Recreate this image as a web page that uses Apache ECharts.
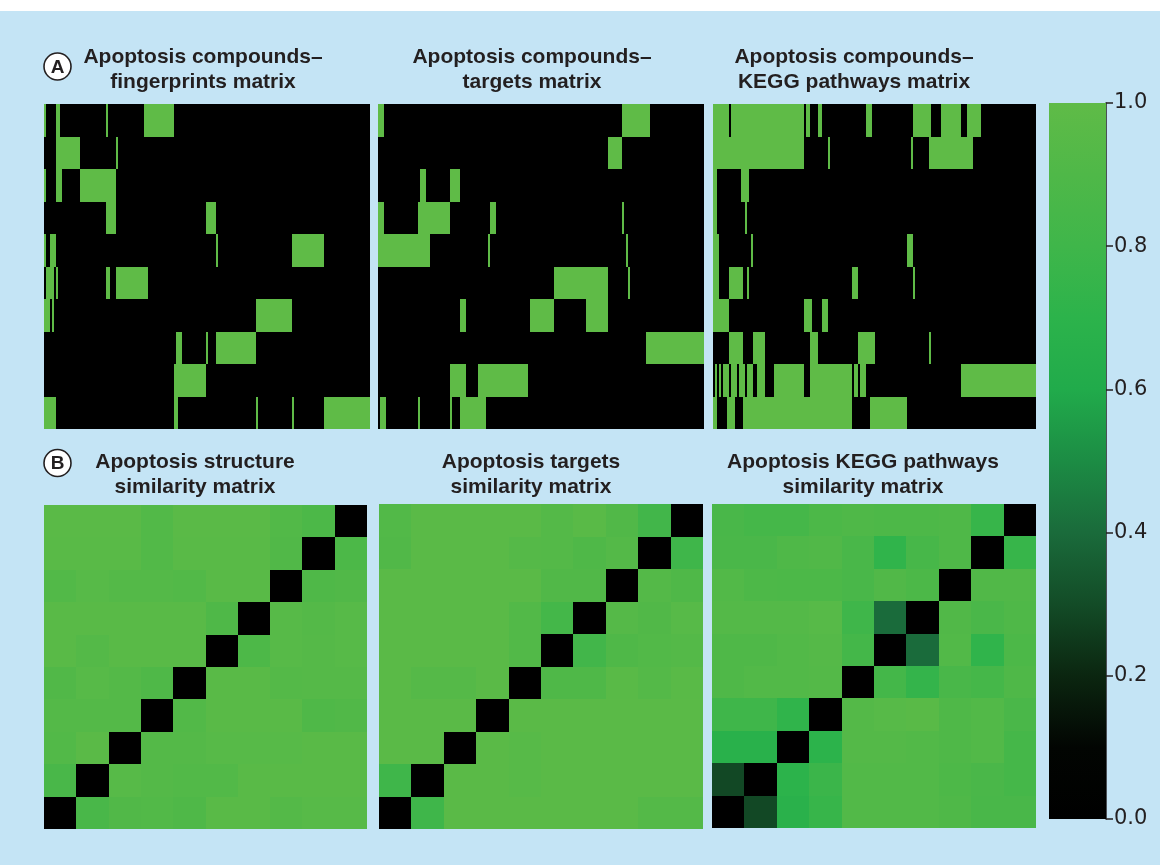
<!DOCTYPE html>
<html>
<head>
<meta charset="utf-8">
<title>Apoptosis compound matrices</title>
<script src="https://cdn.jsdelivr.net/npm/echarts@6/dist/echarts.min.js"></script>
<style>
  html, body { margin: 0; padding: 0; background: #c4e4f5; }
  #chart { width: 1160px; height: 865px; }
</style>
</head>
<body>
<div id="chart"></div>
<script>
// ---- data -------------------------------------------------------------
const featureCount = 163;   // feature columns in each binary matrix
const compoundCount = 10;   // compounds (rows) in every matrix

// Binary compound–feature matrices, one entry per compound (top to bottom);
// each entry lists [start, end) runs of feature columns that are present (=1).
const fingerprintRuns = [
  [[0, 1], [6, 8], [31, 32], [50, 65]],
  [[6, 18], [36, 37]],
  [[0, 1], [6, 9], [18, 36]],
  [[31, 36], [81, 86]],
  [[0, 1], [3, 6], [86, 87], [124, 140]],
  [[1, 5], [6, 7], [31, 33], [36, 52]],
  [[0, 3], [4, 5], [106, 124]],
  [[66, 69], [81, 82], [86, 106]],
  [[65, 81]],
  [[0, 6], [65, 67], [106, 107], [124, 125], [140, 163]]
];
const targetRuns = [
  [[0, 3], [122, 136]],
  [[115, 122]],
  [[21, 24], [36, 41]],
  [[0, 3], [20, 36], [56, 59], [122, 123]],
  [[0, 26], [55, 56], [124, 125]],
  [[88, 115], [125, 126]],
  [[41, 44], [76, 88], [104, 115]],
  [[134, 163]],
  [[36, 44], [50, 75]],
  [[1, 4], [20, 21], [36, 37], [41, 54]]
];
const keggRuns = [
  [[0, 8], [9, 46], [47, 49], [53, 55], [77, 80], [101, 110], [115, 125], [128, 135]],
  [[0, 46], [58, 59], [100, 101], [109, 131]],
  [[0, 2], [14, 18]],
  [[0, 2], [16, 17]],
  [[0, 3], [19, 20], [98, 101]],
  [[0, 3], [8, 15], [17, 18], [70, 73], [101, 102]],
  [[0, 8], [46, 50], [55, 58]],
  [[8, 15], [20, 26], [49, 53], [73, 82], [109, 110]],
  [[1, 2], [3, 4], [5, 8], [9, 12], [13, 16], [17, 20], [22, 26], [31, 46], [49, 70], [71, 73], [74, 77], [125, 163]],
  [[0, 2], [7, 11], [15, 70], [79, 98]]
];

// Compound–compound similarity matrices (rows top to bottom, columns left to right)
const structureSimilarity = [
  [0.97, 0.97, 0.97, 0.92, 0.97, 0.97, 0.97, 0.92, 0.88, 0],
  [0.96, 0.96, 0.96, 0.92, 0.96, 0.96, 0.96, 0.91, 0, 0.88],
  [0.92, 0.95, 0.93, 0.93, 0.92, 0.96, 0.96, 0, 0.90, 0.91],
  [0.96, 0.96, 0.96, 0.96, 0.96, 0.90, 0, 0.95, 0.93, 0.95],
  [0.96, 0.93, 0.96, 0.96, 0.96, 0, 0.89, 0.95, 0.94, 0.95],
  [0.91, 0.95, 0.93, 0.90, 0, 0.96, 0.96, 0.93, 0.94, 0.94],
  [0.93, 0.93, 0.93, 0, 0.92, 0.96, 0.96, 0.96, 0.90, 0.91],
  [0.92, 0.97, 0, 0.93, 0.93, 0.95, 0.95, 0.95, 0.96, 0.96],
  [0.86, 0, 0.95, 0.93, 0.92, 0.92, 0.96, 0.96, 0.96, 0.96],
  [0, 0.86, 0.91, 0.92, 0.90, 0.96, 0.96, 0.93, 0.95, 0.95]
];
const targetSimilarity = [
  [0.92, 0.97, 0.97, 0.97, 0.97, 0.93, 0.96, 0.91, 0.82, 0],
  [0.91, 0.97, 0.97, 0.97, 0.94, 0.93, 0.90, 0.93, 0, 0.80],
  [0.97, 0.97, 0.97, 0.97, 0.97, 0.91, 0.91, 0, 0.93, 0.90],
  [0.97, 0.97, 0.97, 0.97, 0.92, 0.83, 0, 0.94, 0.91, 0.95],
  [0.97, 0.97, 0.97, 0.97, 0.92, 0, 0.82, 0.90, 0.92, 0.93],
  [0.97, 0.94, 0.94, 0.97, 0, 0.90, 0.90, 0.96, 0.93, 0.96],
  [0.97, 0.97, 0.97, 0, 0.97, 0.97, 0.97, 0.97, 0.97, 0.97],
  [0.97, 0.97, 0, 0.97, 0.95, 0.97, 0.97, 0.97, 0.97, 0.97],
  [0.80, 0, 0.97, 0.97, 0.95, 0.97, 0.97, 0.97, 0.97, 0.97],
  [0, 0.80, 0.97, 0.97, 0.97, 0.97, 0.97, 0.97, 0.93, 0.93]
];
const keggSimilarity = [
  [0.86, 0.84, 0.84, 0.88, 0.90, 0.89, 0.89, 0.90, 0.76, 0],
  [0.87, 0.87, 0.90, 0.91, 0.86, 0.72, 0.85, 0.90, 0, 0.76],
  [0.92, 0.89, 0.88, 0.88, 0.86, 0.91, 0.88, 0, 0.91, 0.91],
  [0.93, 0.93, 0.93, 0.95, 0.80, 0.40, 0, 0.91, 0.87, 0.90],
  [0.90, 0.90, 0.92, 0.94, 0.83, 0, 0.40, 0.92, 0.72, 0.88],
  [0.90, 0.92, 0.92, 0.93, 0, 0.83, 0.74, 0.86, 0.84, 0.90],
  [0.80, 0.80, 0.72, 0, 0.93, 0.95, 0.96, 0.90, 0.92, 0.87],
  [0.67, 0.67, 0, 0.70, 0.93, 0.93, 0.92, 0.90, 0.92, 0.84],
  [0.29, 0, 0.70, 0.78, 0.92, 0.92, 0.92, 0.89, 0.87, 0.84],
  [0, 0.29, 0.68, 0.76, 0.92, 0.92, 0.92, 0.90, 0.86, 0.86]
];

// Colour scale, evenly spaced from 0.0 to 1.0
const scaleColors = ['#000000', '#020502', '#0b2610', '#134c27', '#1a6b3b', '#1c8c44',
                     '#21ab4b', '#2cb34b', '#3fb64a', '#4fb848', '#5fbb47'];

const panelTitles = [
  'Apoptosis compounds–\nfingerprints matrix',
  'Apoptosis compounds–\ntargets matrix',
  'Apoptosis compounds–\nKEGG pathways matrix',
  'Apoptosis structure\nsimilarity matrix',
  'Apoptosis targets\nsimilarity matrix',
  'Apoptosis KEGG pathways\nsimilarity matrix'
];
const sectionLetters = ['A', 'B'];

// ---- helpers ----------------------------------------------------------
function runsToCells(runs) {
  const cells = [];
  runs.forEach((row, r) => {
    for (let c = 0; c < featureCount; c++) {
      const present = row.some(([s, e]) => c >= s && c < e);
      cells.push([c, r, present ? 1 : 0]);
    }
  });
  return cells;
}
function matrixToCells(m) {
  const cells = [];
  m.forEach((row, r) => row.forEach((v, c) => cells.push([c, r, v])));
  return cells;
}
const indexList = n => Array.from({ length: n }, (_, i) => String(i));

// One matrix cell, snapped to whole pixels so neighbouring cells meet without seams
function renderCell(params, api) {
  const center = api.coord([api.value(0), api.value(1)]);
  const size = api.size([1, 1]);
  const hw = Math.abs(size[0]) / 2, hh = Math.abs(size[1]) / 2;
  const x0 = Math.round(center[0] - hw), x1 = Math.round(center[0] + hw);
  const y0 = Math.round(center[1] - hh), y1 = Math.round(center[1] + hh);
  return {
    type: 'rect',
    shape: { x: x0, y: y0, width: x1 - x0, height: y1 - y0 },
    style: { fill: api.visual('color') }
  };
}

// ---- layout -----------------------------------------------------------
const panels = [
  { box: { left: 44, top: 104, width: 326, height: 325 }, cols: featureCount, cells: runsToCells(fingerprintRuns), title: [203, 45] },
  { box: { left: 378, top: 104, width: 326, height: 325 }, cols: featureCount, cells: runsToCells(targetRuns), title: [532, 45] },
  { box: { left: 713, top: 104, width: 323, height: 325 }, cols: featureCount, cells: runsToCells(keggRuns), title: [854, 45] },
  { box: { left: 44, top: 505, width: 323, height: 324 }, cols: compoundCount, cells: matrixToCells(structureSimilarity), title: [195, 450] },
  { box: { left: 379, top: 504, width: 324, height: 325 }, cols: compoundCount, cells: matrixToCells(targetSimilarity), title: [531, 450] },
  { box: { left: 712, top: 504, width: 324, height: 324 }, cols: compoundCount, cells: matrixToCells(keggSimilarity), title: [863, 450] }
];
const colorbarBox = { left: 1049, top: 103, width: 57, height: 716 };

const TEXT = '#231f20';
const FONT = '"Liberation Sans", Arial, Helvetica, sans-serif';

const grid = panels.map(p => Object.assign({ containLabel: false }, p.box));
grid.push(Object.assign({}, colorbarBox));

const xAxis = panels.map((p, i) => ({
  type: 'category', gridIndex: i, data: indexList(p.cols), show: false
}));
xAxis.push({ type: 'value', gridIndex: panels.length, show: false, min: 0, max: 1 });

const yAxis = panels.map((p, i) => ({
  type: 'category', gridIndex: i, data: indexList(compoundCount), inverse: true, show: false
}));
// scale ticks along the right edge of the colour bar
yAxis.push({
  type: 'value', gridIndex: panels.length, position: 'right',
  min: 0, max: 1, interval: 0.2,
  axisLine: { show: true, onZero: false, lineStyle: { color: TEXT, width: 1.5 } },
  axisTick: { show: true, inside: false, length: 7, lineStyle: { color: TEXT, width: 1.5 } },
  splitLine: { show: false },
  axisLabel: { color: TEXT, fontSize: 21, fontFamily: '"DejaVu Sans", sans-serif', margin: 8, formatter: v => v.toFixed(1) }
});

const series = panels.map((p, i) => ({
  type: 'custom', xAxisIndex: i, yAxisIndex: i, data: p.cells,
  dimensions: ['feature', 'compound', 'value'],
  encode: { x: 0, y: 1 },
  renderItem: renderCell, silent: true
}));

const graphic = [
  { type: 'rect', shape: { x: 0, y: 0, width: 1160, height: 11 }, style: { fill: '#ffffff' }, silent: true },
  // colour bar for the 0.0–1.0 scale
  {
    type: 'rect', silent: true, z: 1,
    shape: { x: colorbarBox.left, y: colorbarBox.top, width: colorbarBox.width, height: colorbarBox.height },
    style: {
      fill: new echarts.graphic.LinearGradient(0, 1, 0, 0,
        scaleColors.map((color, i) => ({ offset: i / (scaleColors.length - 1), color })))
    }
  }
];
panels.forEach((p, i) => {
  graphic.push({
    type: 'text', x: p.title[0], y: p.title[1], silent: true,
    style: {
      text: panelTitles[i], align: 'center', verticalAlign: 'top',
      fill: TEXT, fontSize: 21, fontWeight: 'bold', fontFamily: FONT, lineHeight: 25
    }
  });
});
[[57.5, 66.5], [57.5, 463]].forEach(([cx, cy], i) => {
  graphic.push({ type: 'circle', shape: { cx, cy, r: 13.5 }, style: { fill: '#ffffff', stroke: TEXT, lineWidth: 1.6 }, silent: true });
  graphic.push({
    type: 'text', x: cx, y: cy + 1, silent: true,
    style: { text: sectionLetters[i], align: 'center', verticalAlign: 'middle', fill: TEXT, fontSize: 19, fontWeight: 'bold', fontFamily: FONT }
  });
});

const chart = echarts.init(document.getElementById('chart'), null, { renderer: 'canvas' });
chart.setOption({
  backgroundColor: '#c4e4f5',
  animation: false,
  grid, xAxis, yAxis, series, graphic,
  visualMap: {
    type: 'continuous', show: false, min: 0, max: 1, dimension: 2,
    seriesIndex: panels.map((_, i) => i),
    inRange: { color: scaleColors }
  }
});
</script>
</body>
</html>
